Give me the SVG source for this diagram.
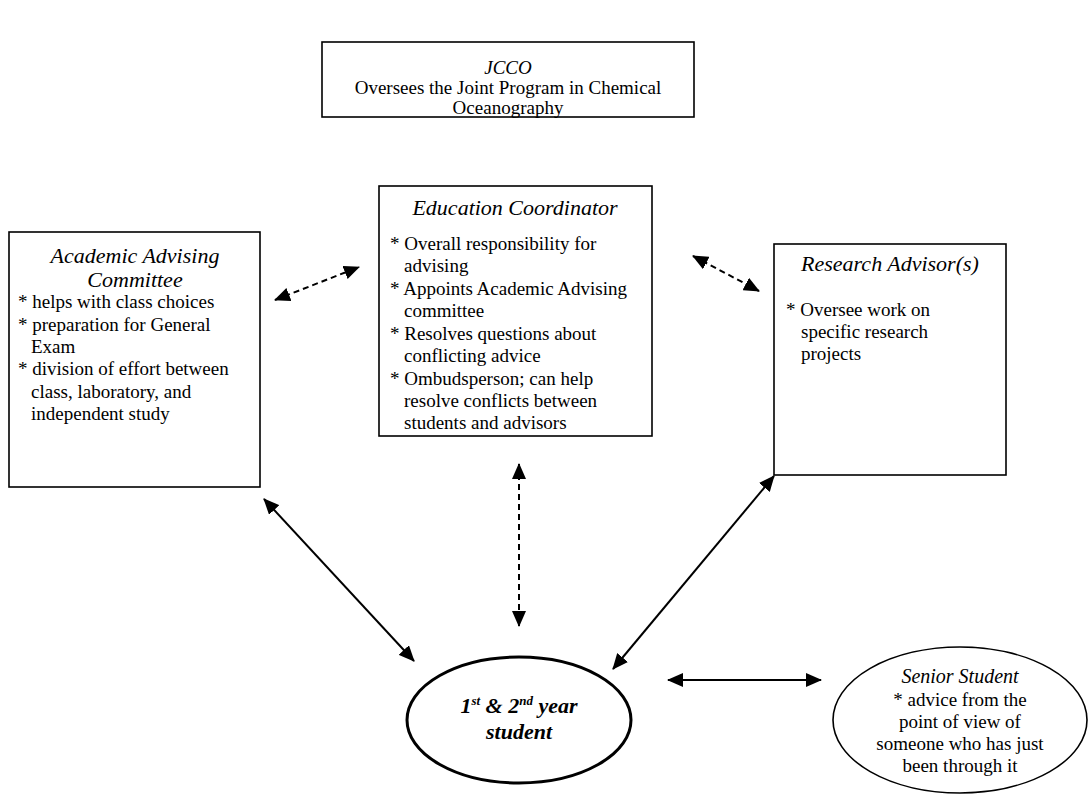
<svg xmlns="http://www.w3.org/2000/svg" width="1088" height="796" viewBox="0 0 1088 796">
<style>
.box{fill:#fff;stroke:#000;stroke-width:1.6}
.t{font-family:"Liberation Serif","Times New Roman",serif;font-size:19px;fill:#000}
.ti{font-family:"Liberation Serif","Times New Roman",serif;font-size:22px;font-style:italic;fill:#000}
.c{text-anchor:middle}
.ln{stroke:#000;stroke-width:2;fill:none}
.dash{stroke-dasharray:6,4}
</style>
<defs>
<marker id="ah" markerUnits="userSpaceOnUse" markerWidth="18" markerHeight="14" refX="15" refY="7" orient="auto-start-reverse">
<path d="M0,0 L16,7 L0,14 Z" fill="#000"/>
</marker>
</defs>
<rect width="1088" height="796" fill="#fff"/>
<g id="jcco">
<rect class="box" x="322" y="42" width="372" height="75"/>
<text class="ti c" x="508" y="74" style="font-size:19px">JCCO</text>
<text class="t c" x="508" y="94">Oversees the Joint Program in Chemical</text>
<text class="t c" x="508" y="114">Oceanography</text>
</g>
<g id="academic">
<rect class="box" x="9" y="232" width="251" height="255"/>
<text class="ti c" x="135" y="263">Academic Advising</text>
<text class="ti c" x="135" y="287">Committee</text>
<text class="t" x="18" y="308">* helps with class choices</text>
<text class="t" x="18" y="331">* preparation for General</text>
<text class="t" x="31" y="353">Exam</text>
<text class="t" x="18" y="375">* division of effort between</text>
<text class="t" x="31" y="398">class, laboratory, and</text>
<text class="t" x="31" y="420">independent study</text>
</g>
<g id="education">
<rect class="box" x="379" y="186" width="273" height="250"/>
<text class="ti c" x="515" y="215">Education Coordinator</text>
<text class="t" x="390" y="250">* Overall responsibility for</text>
<text class="t" x="404" y="272">advising</text>
<text class="t" x="390" y="295">* Appoints Academic Advising</text>
<text class="t" x="404" y="317">committee</text>
<text class="t" x="390" y="340">* Resolves questions about</text>
<text class="t" x="404" y="362">conflicting advice</text>
<text class="t" x="390" y="385">* Ombudsperson; can help</text>
<text class="t" x="404" y="407">resolve conflicts between</text>
<text class="t" x="404" y="429">students and advisors</text>
</g>
<g id="research">
<rect class="box" x="774" y="244" width="232" height="231"/>
<text class="ti c" x="890" y="271">Research Advisor(s)</text>
<text class="t" x="786" y="316">* Oversee work on</text>
<text class="t" x="801" y="338">specific research</text>
<text class="t" x="801" y="360">projects</text>
</g>
<g id="student">
<ellipse cx="519" cy="720" rx="112" ry="63" fill="#fff" stroke="#000" stroke-width="3"/>
<text class="c" x="519" y="713" style="font-family:'Liberation Serif','Times New Roman',serif;font-size:22px;font-weight:bold;font-style:italic">1<tspan dy="-8" font-size="13">st</tspan><tspan dy="8"> &amp; 2</tspan><tspan dy="-8" font-size="13">nd</tspan><tspan dy="8"> year</tspan></text>
<text class="c" x="519" y="739" style="font-family:'Liberation Serif','Times New Roman',serif;font-size:22px;font-weight:bold;font-style:italic">student</text>
</g>
<g id="senior">
<ellipse cx="960" cy="720" rx="127" ry="73" fill="#fff" stroke="#000" stroke-width="1.6"/>
<text class="ti c" x="960" y="683" style="font-size:20px">Senior Student</text>
<text class="t c" x="960" y="706">* advice from the</text>
<text class="t c" x="960" y="728">point of view of</text>
<text class="t c" x="960" y="750">someone who has just</text>
<text class="t c" x="960" y="772">been through it</text>
</g>
<g id="connectors">
<line class="ln dash" x1="275" y1="300" x2="359" y2="267" marker-start="url(#ah)" marker-end="url(#ah)"/>
<line class="ln dash" x1="693" y1="256" x2="759" y2="291" marker-start="url(#ah)" marker-end="url(#ah)"/>
<line class="ln dash" x1="519" y1="464" x2="519" y2="626" marker-start="url(#ah)" marker-end="url(#ah)"/>
<line class="ln" x1="264" y1="499" x2="414" y2="661" marker-start="url(#ah)" marker-end="url(#ah)"/>
<line class="ln" x1="774" y1="476" x2="613" y2="669" marker-start="url(#ah)" marker-end="url(#ah)"/>
<line class="ln" x1="668" y1="680" x2="821" y2="680" marker-start="url(#ah)" marker-end="url(#ah)"/>
</g>
</svg>
